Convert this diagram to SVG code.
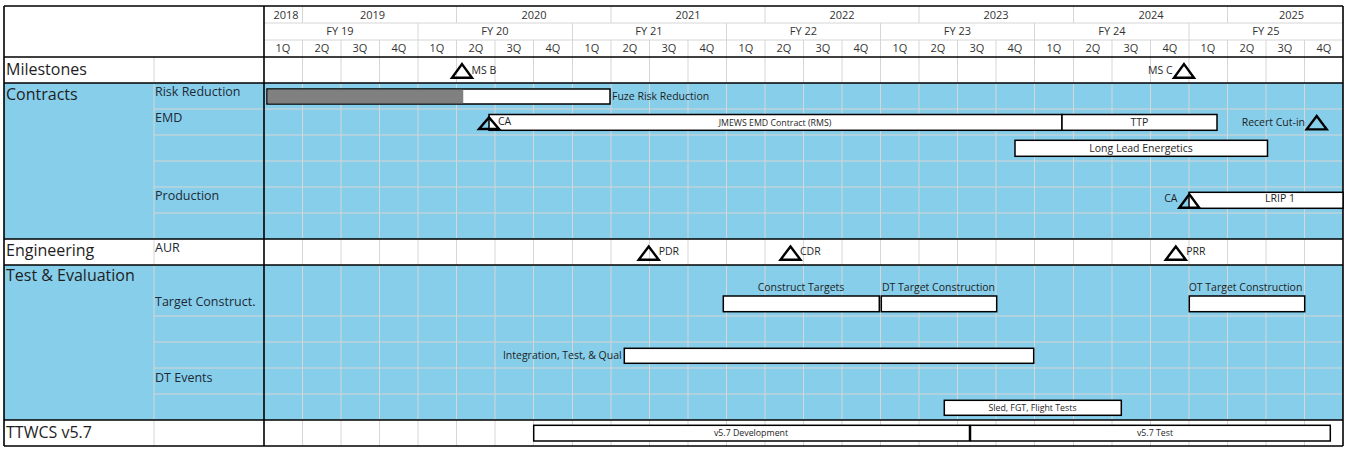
<svg xmlns="http://www.w3.org/2000/svg" width="1346" height="449" viewBox="0 0 1346 449">
<style>
text{font-family:"Open Sans","Liberation Sans",sans-serif;fill:#1e1e1e}
.h{font-size:11px;text-anchor:middle;fill:#333}
.sec{font-size:16px}
.sub{font-size:12.5px;fill:#1d2a36}
.lbl{font-size:10.5px}
.sm{font-size:8.8px}
.mid{text-anchor:middle}
.end{text-anchor:end}
.bar{fill:#fff;stroke:#000;stroke-width:1.5}
.ms{fill:none;stroke:#000;stroke-width:2.4}
.grid line{stroke:#d6d6d6;stroke-width:1}
.frame line{stroke:#000;stroke-width:1.6}
</style>
<rect x="0" y="0" width="1346" height="449" fill="#fff"/>
<g id="bands">
<rect x="4" y="83" width="1339" height="156" fill="#87CEEB"/>
<rect x="4" y="265" width="1339" height="155" fill="#87CEEB"/>
</g>
<g class="grid" id="grid">
<line x1="264" y1="23" x2="1343" y2="23"/>
<line x1="264" y1="40" x2="1343" y2="40"/>
<line x1="302.5" y1="6" x2="302.5" y2="23"/>
<line x1="456.5" y1="6" x2="456.5" y2="23"/>
<line x1="611" y1="6" x2="611" y2="23"/>
<line x1="765" y1="6" x2="765" y2="23"/>
<line x1="919" y1="6" x2="919" y2="23"/>
<line x1="1073.5" y1="6" x2="1073.5" y2="23"/>
<line x1="1227.5" y1="6" x2="1227.5" y2="23"/>
<line x1="418" y1="23" x2="418" y2="40"/>
<line x1="572.5" y1="23" x2="572.5" y2="40"/>
<line x1="726.5" y1="23" x2="726.5" y2="40"/>
<line x1="880.5" y1="23" x2="880.5" y2="40"/>
<line x1="1034.5" y1="23" x2="1034.5" y2="40"/>
<line x1="1189" y1="23" x2="1189" y2="40"/>
<line x1="302.5" y1="40" x2="302.5" y2="446"/>
<line x1="341" y1="40" x2="341" y2="446"/>
<line x1="379.5" y1="40" x2="379.5" y2="446"/>
<line x1="418" y1="40" x2="418" y2="446"/>
<line x1="456.5" y1="40" x2="456.5" y2="446"/>
<line x1="495" y1="40" x2="495" y2="446"/>
<line x1="533.5" y1="40" x2="533.5" y2="446"/>
<line x1="572.5" y1="40" x2="572.5" y2="446"/>
<line x1="611" y1="40" x2="611" y2="446"/>
<line x1="649.5" y1="40" x2="649.5" y2="446"/>
<line x1="688" y1="40" x2="688" y2="446"/>
<line x1="726.5" y1="40" x2="726.5" y2="446"/>
<line x1="765" y1="40" x2="765" y2="446"/>
<line x1="803.5" y1="40" x2="803.5" y2="446"/>
<line x1="842" y1="40" x2="842" y2="446"/>
<line x1="880.5" y1="40" x2="880.5" y2="446"/>
<line x1="919" y1="40" x2="919" y2="446"/>
<line x1="957.5" y1="40" x2="957.5" y2="446"/>
<line x1="996" y1="40" x2="996" y2="446"/>
<line x1="1034.5" y1="40" x2="1034.5" y2="446"/>
<line x1="1073.5" y1="40" x2="1073.5" y2="446"/>
<line x1="1112" y1="40" x2="1112" y2="446"/>
<line x1="1150.5" y1="40" x2="1150.5" y2="446"/>
<line x1="1189" y1="40" x2="1189" y2="446"/>
<line x1="1227.5" y1="40" x2="1227.5" y2="446"/>
<line x1="1266" y1="40" x2="1266" y2="446"/>
<line x1="1304.5" y1="40" x2="1304.5" y2="446"/>
<line x1="154" y1="57" x2="154" y2="446"/>
<line x1="154" y1="109" x2="1343" y2="109"/>
<line x1="154" y1="135" x2="1343" y2="135"/>
<line x1="154" y1="161" x2="1343" y2="161"/>
<line x1="154" y1="187" x2="1343" y2="187"/>
<line x1="154" y1="213" x2="1343" y2="213"/>
<line x1="154" y1="316" x2="1343" y2="316"/>
<line x1="154" y1="342" x2="1343" y2="342"/>
<line x1="154" y1="368" x2="1343" y2="368"/>
<line x1="154" y1="394" x2="1343" y2="394"/>
</g>
<g class="frame" id="frame">
<line x1="4" y1="6" x2="1343" y2="6"/>
<line x1="4" y1="57" x2="1343" y2="57"/>
<line x1="4" y1="83" x2="1343" y2="83"/>
<line x1="4" y1="239" x2="1343" y2="239"/>
<line x1="4" y1="265" x2="1343" y2="265"/>
<line x1="4" y1="420" x2="1343" y2="420"/>
<line x1="4" y1="446" x2="1343" y2="446"/>
<line x1="4" y1="6" x2="4" y2="446"/>
<line x1="264" y1="6" x2="264" y2="446"/>
<line x1="1343" y1="6" x2="1343" y2="446"/>
</g>
<g id="header">
<text class="h" x="286" y="18.5">2018</text>
<text class="h" x="372.5" y="18.5">2019</text>
<text class="h" x="534" y="18.5">2020</text>
<text class="h" x="688" y="18.5">2021</text>
<text class="h" x="842" y="18.5">2022</text>
<text class="h" x="996" y="18.5">2023</text>
<text class="h" x="1151" y="18.5">2024</text>
<text class="h" x="1291.5" y="18.5">2025</text>
<text class="h" x="340" y="35">FY 19</text>
<text class="h" x="495" y="35">FY 20</text>
<text class="h" x="649" y="35">FY 21</text>
<text class="h" x="803.5" y="35">FY 22</text>
<text class="h" x="957.5" y="35">FY 23</text>
<text class="h" x="1112" y="35">FY 24</text>
<text class="h" x="1266" y="35">FY 25</text>
<text class="h" x="283" y="52">1Q</text>
<text class="h" x="322" y="52">2Q</text>
<text class="h" x="360" y="52">3Q</text>
<text class="h" x="399" y="52">4Q</text>
<text class="h" x="437" y="52">1Q</text>
<text class="h" x="476" y="52">2Q</text>
<text class="h" x="514" y="52">3Q</text>
<text class="h" x="553" y="52">4Q</text>
<text class="h" x="592" y="52">1Q</text>
<text class="h" x="630" y="52">2Q</text>
<text class="h" x="669" y="52">3Q</text>
<text class="h" x="707" y="52">4Q</text>
<text class="h" x="746" y="52">1Q</text>
<text class="h" x="784" y="52">2Q</text>
<text class="h" x="823" y="52">3Q</text>
<text class="h" x="861" y="52">4Q</text>
<text class="h" x="900" y="52">1Q</text>
<text class="h" x="938" y="52">2Q</text>
<text class="h" x="977" y="52">3Q</text>
<text class="h" x="1015" y="52">4Q</text>
<text class="h" x="1054" y="52">1Q</text>
<text class="h" x="1093" y="52">2Q</text>
<text class="h" x="1131" y="52">3Q</text>
<text class="h" x="1170" y="52">4Q</text>
<text class="h" x="1208" y="52">1Q</text>
<text class="h" x="1247" y="52">2Q</text>
<text class="h" x="1285" y="52">3Q</text>
<text class="h" x="1324" y="52">4Q</text>
</g>
<g id="row-labels">
<text class="sec" x="6" y="75.3">Milestones</text>
<text class="sec" x="6" y="99.5">Contracts</text>
<text class="sec" x="6" y="255.5">Engineering</text>
<text class="sec" x="6" y="281">Test &amp; Evaluation</text>
<text class="sec" x="6" y="438.3">TTWCS v5.7</text>
<text class="sub" x="155" y="96">Risk Reduction</text>
<text class="sub" x="155" y="122">EMD</text>
<text class="sub" x="155" y="200">Production</text>
<text class="sub" x="155" y="251.7">AUR</text>
<text class="sub" x="155" y="306">Target Construct.</text>
<text class="sub" x="155" y="381.7">DT Events</text>
</g>
<g id="ms-b"><path class="ms" d="M462 64.1 L472 77.8 L452 77.8 Z"/><text class="lbl" x="471.5" y="74">MS B</text></g>
<g id="ms-c"><path class="ms" d="M1184 64.1 L1194 77.8 L1174 77.8 Z"/><text class="lbl end" x="1172.5" y="74">MS C</text></g>
<g id="fuze-risk-reduction">
<rect class="bar" x="267" y="89" width="343" height="15"/>
<rect x="267.75" y="89.75" width="195.5" height="13.5" fill="#808080"/>
<text class="lbl" x="612" y="99.5">Fuze Risk Reduction</text>
</g>
<g id="jmews-emd">
<rect class="bar" x="489" y="114.5" width="573" height="15.8"/>
<text class="sm mid" x="775" y="125.5">JMEWS EMD Contract (RMS)</text>
</g>
<g id="ca-emd"><path class="ms" d="M489 117.4 L499 129 L479 129 Z"/><text class="lbl" x="498" y="125.3">CA</text></g>
<g id="ttp"><rect class="bar" x="1062" y="114.5" width="155" height="15.8"/><text class="lbl mid" x="1139.5" y="125.7">TTP</text></g>
<g id="recert-cut-in"><path class="ms" d="M1316.7 116 L1326.7 129.4 L1306.7 129.4 Z"/><text class="lbl end" x="1305" y="125.7">Recert Cut-in</text></g>
<g id="long-lead"><rect class="bar" x="1015" y="140.3" width="252.5" height="16"/><text class="lbl mid" x="1141" y="151.5">Long Lead Energetics</text></g>
<g id="lrip-1"><rect class="bar" x="1189" y="192.3" width="154" height="16"/><text class="lbl mid" x="1280" y="202.3">LRIP 1</text></g>
<g id="ca-prod"><path class="ms" d="M1189.3 194.2 L1199.3 207.7 L1179.3 207.7 Z"/><text class="lbl end" x="1177.5" y="202.3">CA</text></g>
<g id="pdr"><path class="ms" d="M648.7 246.5 L658.7 259.7 L638.7 259.7 Z"/><text class="lbl" x="658.7" y="255.3">PDR</text></g>
<g id="cdr"><path class="ms" d="M790.5 246.5 L800.5 259.7 L780.5 259.7 Z"/><text class="lbl" x="800" y="255.3">CDR</text></g>
<g id="prr"><path class="ms" d="M1175.8 246.5 L1185.8 259.7 L1165.8 259.7 Z"/><text class="lbl" x="1186.3" y="255.3">PRR</text></g>
<g id="construct-targets"><rect class="bar" x="723.3" y="296" width="156" height="15.7"/><text class="lbl mid" x="801" y="290.7">Construct Targets</text></g>
<g id="dt-target-construction"><rect class="bar" x="881.3" y="296" width="115.4" height="15.7"/><text class="lbl mid" x="938.5" y="290.7">DT Target Construction</text></g>
<g id="ot-target-construction"><rect class="bar" x="1189.3" y="296" width="115.4" height="15.7"/><text class="lbl mid" x="1245.5" y="290.7">OT Target Construction</text></g>
<g id="integration-test-qual"><rect class="bar" x="624.3" y="348.3" width="409.4" height="15"/><text class="lbl end" x="621.7" y="359">Integration, Test, &amp; Qual</text></g>
<g id="sled-fgt-flight-tests"><rect class="bar" x="944.3" y="400.3" width="177" height="15"/><text class="sm mid" x="1032.5" y="410.7">Sled, FGT, Flight Tests</text></g>
<g id="v57-development"><rect class="bar" x="533.7" y="425.3" width="435.8" height="15.7"/><text class="sm mid" x="751" y="435.7">v5.7 Development</text></g>
<g id="v57-test"><rect class="bar" x="970.5" y="425.3" width="359.8" height="15.7"/><text class="sm mid" x="1155" y="435.7">v5.7 Test</text></g>
</svg>
